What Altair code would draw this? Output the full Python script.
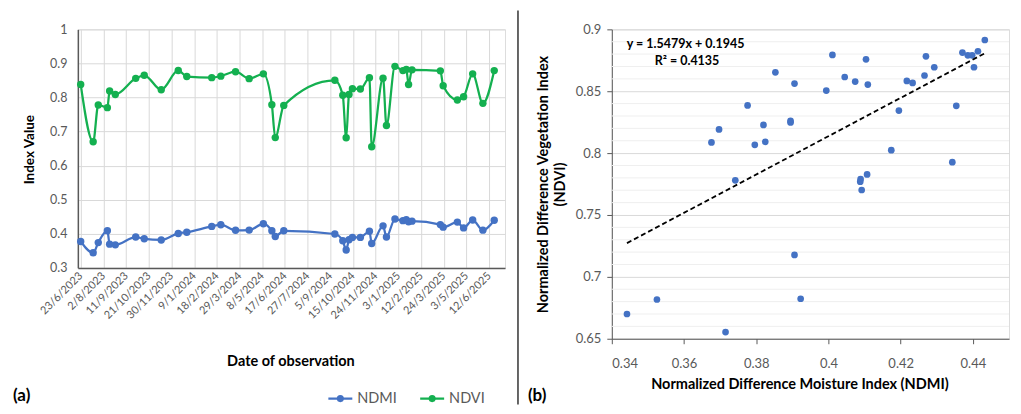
import altair as alt
import pandas as pd

# ---------------- data ----------------
dates = [
    "2023-06-23", "2023-07-15", "2023-07-24", "2023-08-09", "2023-08-13", "2023-08-23",
    "2023-09-28", "2023-10-13", "2023-11-12", "2023-12-12", "2023-12-27", "2024-02-09",
    "2024-02-25", "2024-03-22", "2024-04-15", "2024-05-10", "2024-05-25", "2024-05-31",
    "2024-06-15", "2024-09-13", "2024-09-27", "2024-10-03", "2024-10-08", "2024-10-14",
    "2024-10-28", "2024-11-13", "2024-11-17", "2024-12-07", "2024-12-13", "2024-12-28",
    "2025-01-11", "2025-01-17", "2025-01-21", "2025-01-27", "2025-03-18", "2025-03-23",
    "2025-04-17", "2025-04-28", "2025-05-14", "2025-06-01", "2025-06-21",
]
ndmi = [
    0.3776, 0.3442, 0.3742, 0.4092, 0.3697, 0.3676, 0.3906, 0.3853, 0.3820, 0.4011,
    0.4045, 0.4217, 0.4266, 0.4104, 0.4109, 0.4293, 0.4089, 0.3923, 0.4088, 0.3994,
    0.3796, 0.3525, 0.3825, 0.3895, 0.3895, 0.4074, 0.3715, 0.4233, 0.3906, 0.4433,
    0.4386, 0.4414, 0.4354, 0.4371, 0.4270, 0.4195, 0.4343, 0.4174, 0.4403, 0.4107,
    0.4398,
]
ndvi = [
    0.8385, 0.6700, 0.7780, 0.7702, 0.8191, 0.8086, 0.8562, 0.8653, 0.8228, 0.8793,
    0.8615, 0.8583, 0.8627, 0.8758, 0.8554, 0.8694, 0.7790, 0.6823, 0.7769, 0.8505,
    0.8067, 0.6817, 0.8091, 0.8260, 0.8248, 0.8578, 0.6554, 0.8567, 0.7177, 0.8914,
    0.8790, 0.8823, 0.8382, 0.8812, 0.8782, 0.8344, 0.7927, 0.8024, 0.8694, 0.7828,
    0.8790,
]
series_names = ["NDMI", "NDVI"]
tick_dates = [
    "2023-06-23", "2023-08-02", "2023-09-11", "2023-10-21", "2023-11-30", "2024-01-09",
    "2024-02-18", "2024-03-29", "2024-05-08", "2024-06-17", "2024-07-27", "2024-09-05",
    "2024-10-15", "2024-11-24", "2025-01-03", "2025-02-12", "2025-03-24", "2025-05-03",
    "2025-06-12",
]
date_domain = ["2023-06-18", "2025-07-10"]
index_ticks = [0.3, 0.4, 0.5, 0.6, 0.7, 0.8, 0.9, 1.0]
ndvi_ticks = [0.65, 0.7, 0.75, 0.8, 0.85, 0.9]
ndvi_minor = [0.66, 0.67, 0.68, 0.69, 0.71, 0.72, 0.73, 0.74, 0.76, 0.77, 0.78, 0.79,
              0.81, 0.82, 0.83, 0.84, 0.86, 0.87, 0.88, 0.89]
ndmi_ticks = [0.34, 0.36, 0.38, 0.40, 0.42, 0.44]
slope = 1.5479
intercept = 0.1945
r2 = 0.4135

# ---------------- styling ----------------
BLUE = "#4472C4"
GREEN = "#14B050"
FONT = "Lato"
GREY = "#595959"


def ms(d):
    return int(pd.Timestamp(d, tz="UTC").timestamp() * 1000)


n = len(dates)
ts = pd.DataFrame({
    "date": dates * 2,
    "value": ndmi + ndvi,
    "series": [series_names[0]] * n + [series_names[1]] * n,
})

color = alt.Color("series:N",
                  scale=alt.Scale(domain=series_names, range=[BLUE, GREEN]),
                  legend=None)

x_time = alt.X(
    "date:T",
    scale=alt.Scale(type="utc", domain=[ms(d) for d in date_domain], nice=False),
    axis=alt.Axis(
        values=[ms(d) for d in tick_dates], format="%-d/%-m/%Y",
        labelAngle=-45, labelAlign="right", labelBaseline="middle",
        labelPadding=6, labelFontSize=11, labelColor=GREY, labelFont=FONT,
        labelOverlap=False, labelFlush=False,
        ticks=False, domainColor=GREY, domainWidth=1.5,
        grid=True, gridColor="#d9d9d9", gridWidth=1,
        title="Date of observation", titleFont=FONT, titleFontSize=14.5,
        titleFontWeight="bold", titleColor="#000000",
        titleX=213, titleY=98, titleBaseline="alphabetic", titleAnchor="middle",
    ),
)
y_index = alt.Y(
    "value:Q",
    scale=alt.Scale(domain=[0.3, 1.0], nice=False, zero=False),
    axis=alt.Axis(
        values=index_ticks, format=".1~f",
        labelFontSize=12.5, labelColor=GREY, labelFont=FONT, labelPadding=11,
        ticks=False, domainColor=GREY, domainWidth=1.5,
        grid=True, gridColor="#d9d9d9", gridWidth=1,
        title="Index Value", titleFont=FONT, titleFontSize=13.5,
        titleFontWeight="bold", titleColor="#000000",
        titleX=-44, titleY=120, titleBaseline="alphabetic", titleAngle=270,
    ),
)

base_ts = alt.Chart(ts)
lines = base_ts.mark_line(interpolate="monotone", strokeWidth=2.25).encode(
    x=x_time, y=y_index, color=color)
pts = base_ts.mark_circle(size=55, opacity=1).encode(
    x=x_time, y=y_index, color=color)

leg_df = pd.DataFrame({"series": series_names})
leg_layers = []
for s, x0 in zip(series_names, [251, 343]):
    src = alt.Chart(leg_df).transform_filter(alt.datum.series == s)
    leg_layers.append(src.mark_rule(strokeWidth=2.25).encode(
        x=alt.value(x0), x2=alt.value(x0 + 24), y=alt.value(370), color=color))
    leg_layers.append(src.mark_circle(size=50, opacity=1).encode(
        x=alt.value(x0 + 12), y=alt.value(370), color=color))
    leg_layers.append(src.mark_text(align="left", baseline="middle", font=FONT,
                                    fontSize=14.5, color=GREY).encode(
        x=alt.value(x0 + 29), y=alt.value(370), text="series:N"))

lab_a = alt.Chart(pd.DataFrame({"t": ["(a)"]})).mark_text(
    align="left", baseline="alphabetic", font=FONT, fontSize=17, fontWeight="bold",
    color="#000000").encode(x=alt.value(-65), y=alt.value(372), text="t:N")

divider = alt.Chart(pd.DataFrame({"t": [0]})).mark_rule(
    color="#000000", strokeWidth=1.2).encode(
    x=alt.value(441), y=alt.value(-19), y2=alt.value(376))

left = alt.layer(lines, pts, *leg_layers, lab_a, divider).properties(width=428, height=239)

# ---------------- right panel ----------------
sc = pd.DataFrame({"ndmi": ndmi, "ndvi": ndvi})
x_sc = alt.X(
    "ndmi:Q",
    scale=alt.Scale(domain=[0.34, 0.45], nice=False, zero=False),
    axis=alt.Axis(
        values=ndmi_ticks, format=".2~f",
        labelFontSize=13, labelColor=GREY, labelFont=FONT, labelPadding=14,
        ticks=True, tickSize=5, tickColor=GREY, domainColor=GREY, domainWidth=1,
        grid=False,
        title="Normalized Difference Moisture Index (NDMI)", titleFont=FONT,
        titleFontSize=14.5, titleFontWeight="bold", titleColor="#000000",
        titleX=188, titleY=50, titleBaseline="alphabetic", titleAnchor="middle",
    ),
)
y_sc = alt.Y(
    "ndvi:Q",
    scale=alt.Scale(domain=[0.65, 0.9], nice=False, zero=False),
    axis=alt.Axis(
        values=ndvi_ticks, format=".2~f",
        labelFontSize=13, labelColor=GREY, labelFont=FONT, labelPadding=6,
        ticks=True, tickSize=5, tickColor=GREY, domainColor=GREY, domainWidth=1,
        grid=True, gridColor="#d9d9d9", gridWidth=1,
        title=["Normalized Difference Vegetation Index", "(NDVI)"], titleFont=FONT,
        titleFontSize=14.5, titleFontWeight="bold", titleColor="#000000",
        titleX=-75, titleY=155, titleBaseline="top", titleAngle=270,
        titleLineHeight=17,
    ),
)

minor = alt.Chart(pd.DataFrame({"ndvi": ndvi_minor})).mark_rule(
    color="#efefef", strokeWidth=1).encode(y=alt.Y("ndvi:Q"))

dots = alt.Chart(sc).mark_circle(size=45, opacity=1, color=BLUE).encode(x=x_sc, y=y_sc)

xe = [min(ndmi), max(ndmi)]
trend_df = pd.DataFrame({"ndmi": xe, "ndvi": [slope * v + intercept for v in xe]})
trend = alt.Chart(trend_df).mark_line(color="#000000", strokeDash=[5, 3],
                                      strokeWidth=1.8).encode(x="ndmi:Q", y="ndvi:Q")

eq_df = pd.DataFrame({
    "t": [f"y = {slope}x + {intercept}", f"R\u00b2 = {r2}"],
})
eq1 = alt.Chart(eq_df).transform_filter(alt.datum.t == eq_df.t[0]).mark_text(
    align="left", baseline="alphabetic", font=FONT, fontSize=12.5, fontWeight="bold",
    color="#000000").encode(x=alt.value(15), y=alt.value(19), text="t:N")
eq2 = alt.Chart(eq_df).transform_filter(alt.datum.t == eq_df.t[1]).mark_text(
    align="left", baseline="alphabetic", font=FONT, fontSize=12.5, fontWeight="bold",
    color="#000000").encode(x=alt.value(43), y=alt.value(36), text="t:N")

lab_b = alt.Chart(pd.DataFrame({"t": ["(b)"]})).mark_text(
    align="left", baseline="alphabetic", font=FONT, fontSize=17, fontWeight="bold",
    color="#000000").encode(x=alt.value(-84), y=alt.value(372), text="t:N")

right = alt.layer(minor, dots, trend, eq1, eq2, lab_b).properties(width=398, height=310)

chart = alt.hconcat(left, right, spacing=107, bounds="flush").properties(
    padding={"left": 4, "top": 0, "right": 3, "bottom": 0}
).configure_view(strokeWidth=0).configure(background="#ffffff")

chart.save("out.html", embed_options={"renderer": "svg", "actions": False})
